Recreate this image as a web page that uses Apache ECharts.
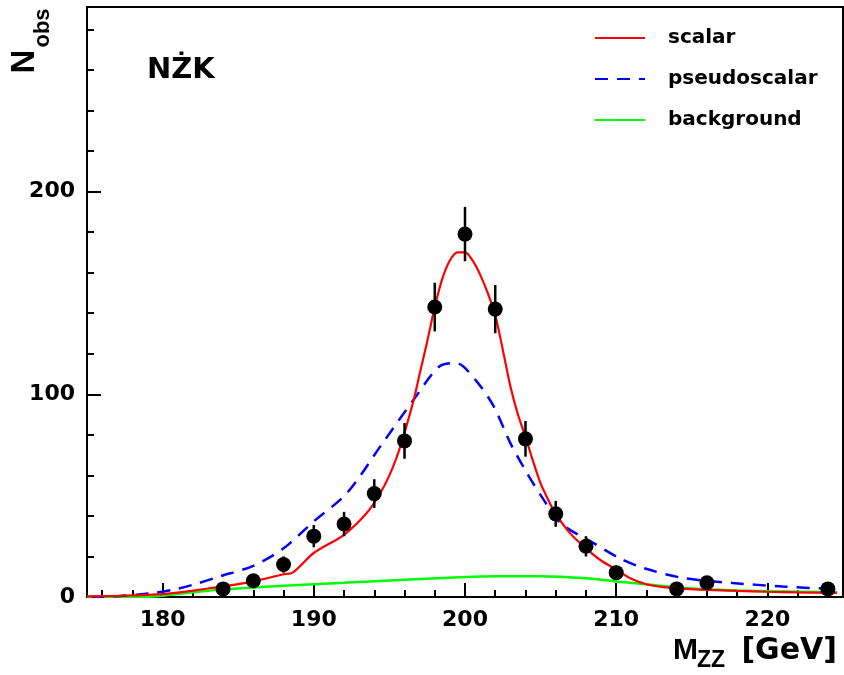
<!DOCTYPE html>
<html>
<head>
<meta charset="utf-8">
<script src="https://cdn.jsdelivr.net/npm/echarts@6/dist/echarts.min.js"></script>
<style>
  html, body { margin: 0; padding: 0; background: #fff; }
  #main { width: 844px; height: 675px; }
</style>
</head>
<body>
<div id="main"></div>
<script>
// measured counts, one per 2 GeV bin (empty bins not drawn)
const dataX = [184, 186, 188, 190, 192, 194, 196, 198, 200, 202, 204, 206, 208, 210, 214, 216, 224]
const dataY = [4, 8, 16, 30, 36, 51, 77, 143, 179, 142, 78, 41, 25, 12, 4, 7, 4]
const dataErr = [2, 2.8, 4, 5.5, 6, 7.1, 8.8, 12, 13.4, 11.9, 8.8, 6.4, 5, 3.5, 2, 2.6, 2]

// scalar curve (red)
const sigX = [175, 177, 179, 181, 183, 184, 186, 188, 188.6, 190, 192, 193.5, 194.4, 195, 195.5, 196, 196.6, 197, 197.5, 198, 198.5, 199, 199.5, 200, 200.5, 201, 201.5, 202, 202.5, 203, 203.5, 204, 204.5, 205, 205.5, 206, 207, 208, 209, 210, 211, 212, 213, 214, 216, 218, 220, 222, 224.6]
const sigY = [0.3, 0.6, 1.0, 2.2, 4.2, 5.2, 7.7, 11.2, 12, 21.7, 30.7, 41.4, 51.3, 60, 69.3, 81, 97, 110, 126, 143, 157, 166, 170, 170, 166, 159, 150, 139, 122, 104, 90, 79, 67, 56, 48, 41, 31, 24, 18, 13.5, 9, 6.3, 5, 4.3, 3.5, 3, 2.6, 2.3, 2]

// pseudoscalar curve (blue dashed)
const psX = [175.3, 177.2, 179.4, 180.7, 182, 183.8, 186, 188, 190, 192.2, 194.4, 196.6, 198.3, 199.4, 200.7, 201.9, 203, 204.1, 205.2, 206.3, 208.5, 210.2, 211.8, 214.4, 217.7, 221, 224.4]
const psY = [0, 0.5, 2, 3.6, 6, 10.2, 15.4, 24, 37.3, 51.3, 74.3, 97.3, 113.7, 115.4, 107, 94, 75.9, 61.1, 48, 36.5, 26.6, 19.2, 14.3, 9.4, 6.9, 5.2, 3.9]

// background curve (green)
const bkgX = [175, 179.4, 181.6, 183.8, 188, 192, 196, 199.6, 202, 205, 208, 210, 212.9, 214.4, 218, 224.6]
const bkgY = [0, 0.3, 2, 3.6, 5.6, 7, 8.5, 9.7, 10.2, 10.2, 9.2, 7.7, 5.6, 4.4, 3.2, 2.3]

const FONT = 'DejaVu Sans'
const pairs = (xs, ys) => xs.map((x, i) => [x, ys[i]])

var myChart = echarts.init(document.getElementById('main'), null, { renderer: 'canvas' })

var option = {
  animation: false,
  backgroundColor: '#fff',
  grid: {
    left: 87, right: 1, top: 7, bottom: 78,
    show: true,
    borderColor: '#000',
    borderWidth: 2
  },
  legend: {
    orient: 'vertical',
    left: 589,
    top: 23,
    itemWidth: 50,
    itemHeight: 20,
    itemGap: 21,
    data: ['scalar', 'pseudoscalar', 'background'],
    itemStyle: { opacity: 0 },
    textStyle: {
      fontFamily: FONT, fontWeight: 'bold', fontSize: 20, color: '#000',
      padding: [0, 0, 0, 18]
    }
  },
  xAxis: {
    type: 'value',
    min: 175, max: 225,
    splitNumber: 5, minInterval: 10, maxInterval: 10,
    axisLine: { lineStyle: { color: '#000', width: 2 } },
    axisTick: { inside: true, length: 14, lineStyle: { color: '#000', width: 2 } },
    minorTick: { show: true, splitNumber: 5, length: 7, lineStyle: { color: '#000', width: 2 } },
    splitLine: { show: false },
    axisLabel: {
      showMinLabel: false, showMaxLabel: false,
      margin: 12,
      fontFamily: FONT, fontWeight: 'bold', fontSize: 22, color: '#000'
    }
  },
  yAxis: {
    type: 'value',
    min: 0, max: 291, interval: 100,
    axisLine: { show: true, lineStyle: { color: '#000', width: 2 } },
    axisTick: { show: true, inside: true, length: 14, lineStyle: { color: '#000', width: 2 } },
    minorTick: { show: true, splitNumber: 5, length: 7, lineStyle: { color: '#000', width: 2 } },
    splitLine: { show: false },
    axisLabel: {
      showMaxLabel: false,
      margin: 12,
      fontFamily: FONT, fontWeight: 'bold', fontSize: 22, color: '#000'
    }
  },
  graphic: [
    { type: 'text', x: 147, y: 70, style: { text: 'NŻK', fontFamily: FONT, fontWeight: 'bold', fontSize: 29, fill: '#000', align: 'left', verticalAlign: 'middle' } },
    { type: 'text', x: 673, y: 651, style: { text: 'M', fontFamily: 'Liberation Sans', fontWeight: 'bold', fontSize: 30, fill: '#000', align: 'left', verticalAlign: 'middle' } },
    { type: 'text', x: 697, y: 661, style: { text: 'ZZ', fontFamily: 'Liberation Sans', fontWeight: 'bold', fontSize: 23, fill: '#000', align: 'left', verticalAlign: 'middle' } },
    { type: 'text', x: 837, y: 651, style: { text: '[GeV]', fontFamily: FONT, fontWeight: 'bold', fontSize: 30, fill: '#000', align: 'right', verticalAlign: 'middle' } },
    { type: 'text', x: 24.7, y: 61.5, rotation: Math.PI / 2, style: { text: 'N', fontFamily: 'Liberation Sans', fontWeight: 'bold', fontSize: 33, fill: '#000', align: 'center', verticalAlign: 'middle' } },
    { type: 'text', x: 42.5, y: 28, rotation: Math.PI / 2, style: { text: 'obs', fontFamily: 'Liberation Sans', fontWeight: 'bold', fontSize: 22, fill: '#000', align: 'center', verticalAlign: 'middle' } }
  ],
  series: [
    {
      name: 'background',
      type: 'line',
      symbol: 'none',
      smooth: 0.3,
      data: pairs(bkgX, bkgY),
      lineStyle: { color: '#00ff00', width: 2.5 },
      itemStyle: { color: '#00ff00' },
      z: 2
    },
    {
      name: 'pseudoscalar',
      type: 'line',
      symbol: 'none',
      smooth: 0.3,
      data: pairs(psX, psY),
      lineStyle: { color: '#0000ff', width: 2.5, type: [13, 9] },
      itemStyle: { color: '#0000ff' },
      z: 3
    },
    {
      name: 'scalar',
      type: 'line',
      symbol: 'none',
      smooth: 0.3,
      data: pairs(sigX, sigY),
      lineStyle: { color: '#ff0000', width: 2.2 },
      itemStyle: { color: '#ff0000' },
      z: 4
    },
    {
      name: 'errors',
      type: 'custom',
      data: dataX.map((x, i) => [x, dataY[i] - dataErr[i], dataY[i] + dataErr[i]]),
      renderItem: function (params, api) {
        const lo = api.coord([api.value(0), api.value(1)])
        const hi = api.coord([api.value(0), api.value(2)])
        return {
          type: 'line',
          shape: { x1: lo[0], y1: lo[1], x2: hi[0], y2: hi[1] },
          style: { stroke: '#000', lineWidth: 2.5 }
        }
      },
      z: 5
    },
    {
      name: 'data',
      type: 'scatter',
      symbol: 'circle',
      symbolSize: 15,
      data: pairs(dataX, dataY),
      itemStyle: { color: '#000', opacity: 1 },
      z: 6
    }
  ]
}
myChart.setOption(option)
</script>
</body>
</html>
